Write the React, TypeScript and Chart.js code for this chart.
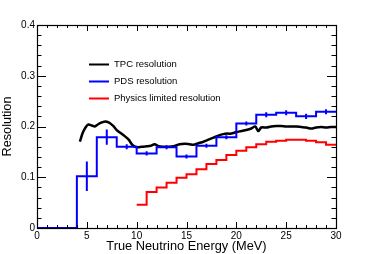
import React, { useEffect, useRef } from "react";
import { Chart, registerables } from "chart.js";

Chart.register(...registerables);

// PDS resolution histogram (2 MeV bins)
const pdsEdges = [0, 2, 4, 6, 8, 10, 12, 14, 16, 18, 20, 22, 24, 26, 28, 30];
const pdsValues = [0, 0, 0.102, 0.179, 0.16, 0.147, 0.159, 0.141, 0.162, 0.179, 0.206, 0.223, 0.227, 0.22, 0.229];
const pdsErrors = [0, 0, 0.029, 0.015, 0.005, 0.004, 0.004, 0.004, 0.004, 0.004, 0.004, 0.005, 0.005, 0.005, 0.005];

// Physics limited resolution histogram (1 MeV bins)
const physEdges = [10, 11, 12, 13, 14, 15, 16, 17, 18, 19, 20, 21, 22, 23, 24, 25, 26, 27, 28, 29, 30];
const physValues = [0.046, 0.071, 0.08, 0.089, 0.099, 0.106, 0.116, 0.126, 0.134, 0.144, 0.152, 0.159, 0.165, 0.17, 0.172, 0.174, 0.174, 0.172, 0.169, 0.164];

// TPC resolution curve
const tpcEnergy = [4.3, 4.6, 4.9, 5.15, 5.5, 5.8, 6.1, 6.5, 6.9, 7.3, 7.7, 8.0, 8.4, 8.8, 9.2, 9.6, 10.0, 10.5, 11.0, 11.4, 11.8, 12.2, 12.7, 13.2, 13.7, 14.3, 14.8, 15.3, 15.7, 16.2, 16.7, 17.2, 17.7, 18.2, 18.7, 19.1, 19.5, 20.0, 20.5, 21.0, 21.5, 21.9, 22.2, 22.5, 23.0, 23.5, 24.0, 24.5, 25.0, 25.5, 26.0, 26.5, 27.0, 27.5, 28.0, 28.5, 29.0, 29.5, 30.0];
const tpcValues = [0.17, 0.188, 0.199, 0.204, 0.202, 0.2, 0.204, 0.208, 0.21, 0.207, 0.2, 0.193, 0.187, 0.181, 0.174, 0.163, 0.159, 0.16, 0.161, 0.162, 0.165, 0.161, 0.16, 0.16, 0.161, 0.165, 0.166, 0.165, 0.164, 0.167, 0.17, 0.174, 0.178, 0.182, 0.185, 0.186, 0.186, 0.189, 0.191, 0.193, 0.196, 0.2, 0.191, 0.198, 0.198, 0.2, 0.201, 0.201, 0.2, 0.2, 0.2, 0.199, 0.198, 0.196, 0.198, 0.199, 0.198, 0.199, 0.199];

const legendLabels = ["TPC resolution", "PDS resolution", "Physics limited resolution"];
const legendColors = ["#000000", "#0000ff", "#ff0000"];

const FONT = "'Liberation Sans', Arial, Helvetica, sans-serif";

function histPoints(edges: number[], values: number[]) {
  return edges.map((e, i) => ({ x: e, y: values[Math.min(i, values.length - 1)] }));
}

const framePlugin = {
  id: "rootFrame",
  afterDatasetsDraw(chart: any) {
    const { ctx, chartArea, scales } = chart;
    const { left, right, top, bottom } = chartArea;
    const x = scales.x;
    const y = scales.y;
    ctx.save();
    ctx.strokeStyle = "#000";
    ctx.lineWidth = 1;
    ctx.beginPath();
    for (let v = 0; v <= 30; v += 1) {
      const px = Math.round(x.getPixelForValue(v)) + 0.5;
      const len = v % 5 === 0 ? 6 : 3;
      ctx.moveTo(px, bottom);
      ctx.lineTo(px, bottom - len);
      ctx.moveTo(px, top);
      ctx.lineTo(px, top + len);
    }
    for (let i = 0; i <= 20; i++) {
      const py = Math.round(y.getPixelForValue(i * 0.02)) + 0.5;
      const len = i % 5 === 0 ? 9 : 4.5;
      ctx.moveTo(left, py);
      ctx.lineTo(left + len, py);
      ctx.moveTo(right, py);
      ctx.lineTo(right - len, py);
    }
    ctx.stroke();
    ctx.lineWidth = 1.2;
    ctx.strokeRect(Math.round(left) + 0.5, Math.round(top) + 0.5, Math.round(right - left), Math.round(bottom - top));

    // error bars for PDS
    ctx.strokeStyle = "#0000ff";
    ctx.lineWidth = 2;
    ctx.beginPath();
    for (let i = 0; i < pdsValues.length; i++) {
      if (pdsErrors[i] <= 0) continue;
      const cx = x.getPixelForValue((pdsEdges[i] + pdsEdges[i + 1]) / 2);
      ctx.moveTo(cx, y.getPixelForValue(pdsValues[i] + pdsErrors[i]));
      ctx.lineTo(cx, y.getPixelForValue(pdsValues[i] - pdsErrors[i]));
    }
    ctx.stroke();

    // legend
    ctx.font = `9.5px ${FONT}`;
    ctx.textBaseline = "middle";
    ctx.textAlign = "left";
    for (let i = 0; i < legendLabels.length; i++) {
      const ly = top + 39.5 + i * 17;
      ctx.strokeStyle = legendColors[i];
      ctx.lineWidth = 2;
      ctx.beginPath();
      ctx.moveTo(left + 52, ly);
      ctx.lineTo(left + 72, ly);
      ctx.stroke();
      ctx.fillStyle = "#000";
      ctx.fillText(legendLabels[i], left + 77, ly);
    }
    ctx.restore();
  },
};

export default function App() {
  const ref = useRef<HTMLCanvasElement | null>(null);
  useEffect(() => {
    if (!ref.current) return;
    const chart = new Chart(ref.current, {
      type: "line",
      data: {
        datasets: [
          {
            label: "Physics limited resolution",
            data: histPoints(physEdges, physValues),
            borderColor: "#ff0000",
            borderWidth: 2,
            stepped: "before",
            pointRadius: 0,
            fill: false,
            clip: false,
          },
          {
            label: "PDS resolution",
            data: histPoints(pdsEdges, pdsValues),
            borderColor: "#0000ff",
            borderWidth: 2,
            stepped: "before",
            pointRadius: 0,
            fill: false,
            clip: false,
          },
          {
            label: "TPC resolution",
            data: tpcEnergy.map((e, i) => ({ x: e, y: tpcValues[i] })),
            borderColor: "#000000",
            borderWidth: 2.5,
            tension: 0.3,
            pointRadius: 0,
            fill: false,
          },
        ],
      },
      options: {
        animation: false,
        responsive: false,
        maintainAspectRatio: false,
        devicePixelRatio: 1,
        layout: { padding: { left: 0, top: 25, right: 38, bottom: 0 } },
        plugins: { legend: { display: false }, tooltip: { enabled: false } },
        scales: {
          x: {
            type: "linear",
            min: 0,
            max: 30,
            grid: { display: false, drawTicks: false },
            border: { display: false },
            ticks: {
              stepSize: 5,
              padding: 2,
              color: "#000",
              font: { family: FONT, size: 10 },
              maxRotation: 0,
            },
            title: {
              display: true,
              text: "True Neutrino Energy (MeV)",
              color: "#000",
              font: { family: FONT, size: 12.8 },
              padding: { top: 0, bottom: 0 },
            },
            afterFit: (s: any) => {
              s.height = 26;
            },
          },
          y: {
            type: "linear",
            min: 0,
            max: 0.4,
            grid: { display: false, drawTicks: false },
            border: { display: false },
            ticks: {
              stepSize: 0.1,
              padding: 2,
              color: "#000",
              font: { family: FONT, size: 10 },
              callback: (v: any) => (v === 0 ? "0" : Number(v).toFixed(1)),
            },
            title: {
              display: true,
              text: "Resolution",
              color: "#000",
              font: { family: FONT, size: 12.7 },
              padding: { top: 0, bottom: 0 },
            },
            afterFit: (s: any) => {
              s.width = 37;
            },
          },
        },
      },
      plugins: [framePlugin],
    });
    return () => chart.destroy();
  }, []);
  return (
    <div style={{ position: "fixed", left: 0, top: 0, width: 374, height: 254, background: "#fff" }}>
      <canvas ref={ref} width={374} height={254} style={{ width: 374, height: 254, display: "block" }} />
    </div>
  );
}
